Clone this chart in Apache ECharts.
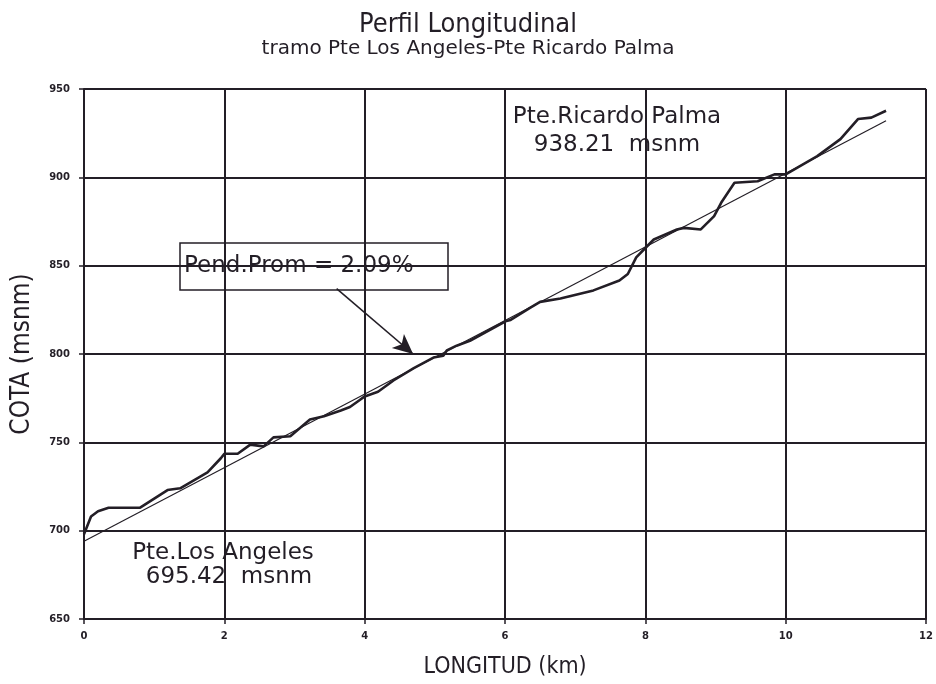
<!DOCTYPE html>
<html>
<head>
<meta charset="utf-8">
<script src="https://cdn.jsdelivr.net/npm/echarts@6/dist/echarts.min.js"></script>
<style>
    html, body {margin: 0; padding: 0; background: #fff;}
    #chart {width: 936px; height: 684px;}
</style>
</head>
<body>
<div id="chart"></div>
<script>
const dist_km = [0, 0.1, 0.2, 0.35, 0.8, 1.19, 1.37, 1.76, 1.95, 2.0, 2.19, 2.37, 2.56, 2.7, 2.94,
    3.22, 3.42, 3.66, 3.79, 3.93, 4.0, 4.19, 4.41, 4.7, 4.98, 5.12, 5.17, 5.31, 5.5, 6.02, 6.08,
    6.35, 6.5, 6.79, 7.26, 7.63, 7.75, 7.87, 8.0, 8.12, 8.45, 8.55, 8.79, 8.98, 9.08, 9.27, 9.6,
    9.84, 10.0, 10.45, 10.78, 11.03, 11.22, 11.43];
const cota = [698, 708, 711, 713, 713, 723, 724, 733, 741, 743.5, 743.5, 748.7, 747.7, 752.8, 753.4,
    762.9, 764.8, 768, 770, 774, 776, 778.6, 785, 792, 798, 799, 802, 804.7, 807.5, 818.7, 819.3,
    826, 829.5, 831.4, 836, 841.6, 845.3, 854.7, 860, 864.8, 870.5, 871.4, 870.5, 878, 885.6, 896.9, 897.8,
    901.7, 901.7, 912, 921.6, 933, 933.8, 937.7];

// recta de pendiente promedio
const trend_km = [0, 11.43];
const trend_cota = [694, 932];

// flecha de la etiqueta de pendiente
const arrow_from = [3.6, 837];
const arrow_to = [4.69, 800];

const x_ticks = [0, 12, 2];
const y_ticks = [650, 950, 50];

const ink = '#231e26';
const narrow = "'DejaVu Sans Condensed', 'Liberation Sans Narrow', 'DejaVu Sans', sans-serif";
const wide = "'DejaVu Sans', sans-serif";

let chart = echarts.init(document.getElementById('chart'), null, {renderer: 'canvas'});

let axis_common = {
    type: 'value',
    nameLocation: 'middle',
    axisLine: {show: true, onZero: false, lineStyle: {color: ink, width: 2}},
    axisTick: {show: true, length: 5, lineStyle: {color: ink, width: 1.5}},
    splitLine: {show: true, lineStyle: {color: ink, width: 2}},
    axisLabel: {color: ink, fontSize: 10, fontWeight: 'bold', fontFamily: 'DejaVu Sans'},
};

let option = {
    animation: false,
    backgroundColor: '#fff',
    title: {
        text: 'Perfil Longitudinal',
        subtext: 'tramo Pte Los Angeles-Pte Ricardo Palma',
        left: 'center',
        top: 6,
        itemGap: 1,
        textStyle: {color: ink, fontSize: 27, fontWeight: 'normal', fontFamily: narrow},
        subtextStyle: {color: ink, fontSize: 20, fontFamily: wide},
    },
    grid: {left: 84, right: 4, top: 89, bottom: 60},
    xAxis: Object.assign({}, axis_common, {
        name: 'LONGITUD (km)',
        nameGap: 37,
        nameTextStyle: {color: ink, fontSize: 23, fontFamily: narrow},
        min: x_ticks[0], max: x_ticks[1], interval: x_ticks[2],
        axisLabel: Object.assign({}, axis_common.axisLabel, {margin: 12}),
    }),
    yAxis: Object.assign({}, axis_common, {
        name: 'COTA (msnm)',
        nameGap: 49,
        nameTextStyle: {color: ink, fontSize: 26, fontFamily: narrow},
        min: y_ticks[0], max: y_ticks[1], interval: y_ticks[2],
        axisLabel: Object.assign({}, axis_common.axisLabel, {margin: 14}),
    }),
    series: [
        {
            name: 'terreno',
            type: 'line',
            data: dist_km.map((d, i) => [d, cota[i]]),
            showSymbol: false,
            lineStyle: {color: ink, width: 2.6},
            z: 3,
        },
        {
            name: 'pendiente',
            type: 'line',
            data: trend_km.map((d, i) => [d, trend_cota[i]]),
            showSymbol: false,
            lineStyle: {color: ink, width: 1.2},
            z: 2,
            markLine: {
                silent: true,
                symbol: ['none', 'arrow'],
                symbolSize: [14, 20],
                label: {show: false},
                lineStyle: {color: ink, width: 1.6, type: 'solid'},
                data: [[{coord: arrow_from}, {coord: arrow_to}]],
            },
        },
    ],
    graphic: [
        {
            type: 'rect',
            shape: {x: 180, y: 243, width: 268, height: 47},
            style: {fill: 'rgba(0,0,0,0)', stroke: ink, lineWidth: 1.5},
            z: 10,
        },
        {
            type: 'text',
            x: 184, y: 266,
            style: {text: 'Pend.Prom = 2.09%', fill: ink, font: '23px ' + wide, verticalAlign: 'middle'},
            z: 10,
        },
        {
            type: 'text',
            x: 617, y: 117,
            style: {text: 'Pte.Ricardo Palma', fill: ink, font: '23px ' + wide, align: 'center', verticalAlign: 'middle'},
            z: 10,
        },
        {
            type: 'text',
            x: 617, y: 145,
            style: {text: '938.21  msnm', fill: ink, font: '23px ' + wide, align: 'center', verticalAlign: 'middle'},
            z: 10,
        },
        {
            type: 'text',
            x: 223, y: 553,
            style: {text: 'Pte.Los Angeles', fill: ink, font: '23px ' + wide, align: 'center', verticalAlign: 'middle'},
            z: 10,
        },
        {
            type: 'text',
            x: 229, y: 577,
            style: {text: '695.42  msnm', fill: ink, font: '23px ' + wide, align: 'center', verticalAlign: 'middle'},
            z: 10,
        },
    ],
};

chart.setOption(option);
</script>
</body>
</html>
